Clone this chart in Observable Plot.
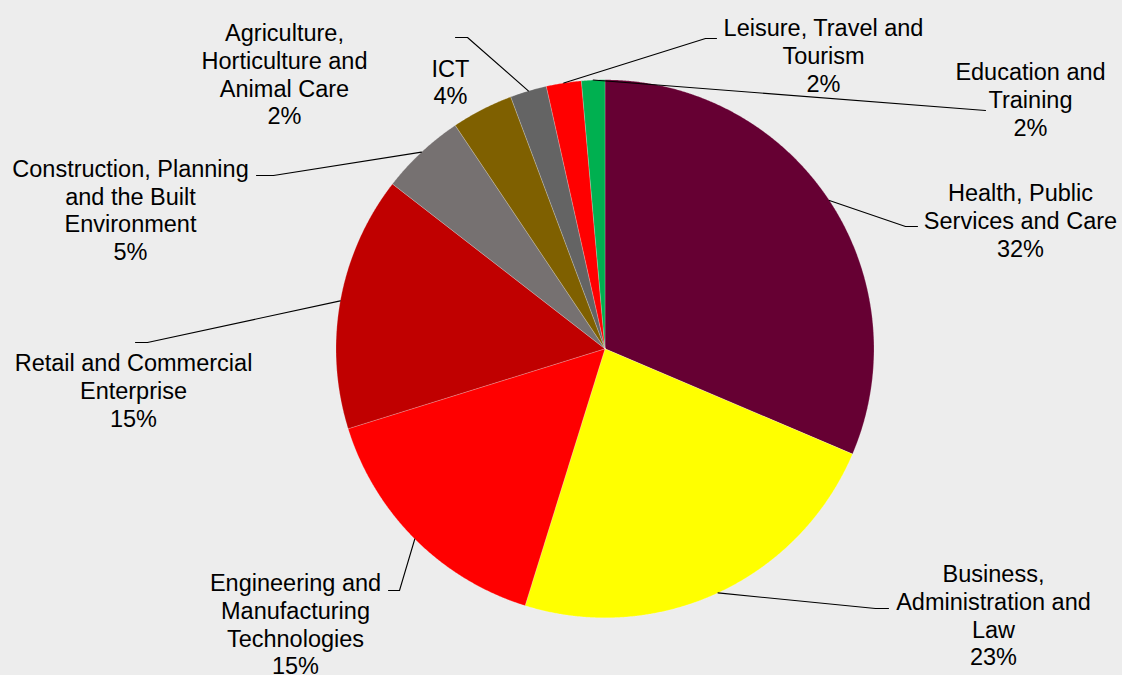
<!DOCTYPE html>
<html>
<head>
<meta charset="utf-8">
<script src="https://cdn.jsdelivr.net/npm/d3@7"></script>
<script src="https://cdn.jsdelivr.net/npm/@observablehq/plot@0.6"></script>
<style>
  html, body { margin: 0; padding: 0; background: #ededed; }
  #chart { width: 1122px; height: 675px; }
</style>
</head>
<body>
<div id="chart"></div>
<script>
// ---- data ----
const categories = [
  "Health, Public Services and Care",
  "Business, Administration and Law",
  "Engineering and Manufacturing Technologies",
  "Retail and Commercial Enterprise",
  "Construction, Planning and the Built Environment",
  "ICT",
  "Agriculture, Horticulture and Animal Care",
  "Leisure, Travel and Tourism",
  "Education and Training"
];
const values = [31.4, 23.4, 15.4, 15.3, 5.1, 3.7, 2.2, 2.1, 1.4];
const percentLabels = ["32%", "23%", "15%", "15%", "5%", "4%", "2%", "2%", "2%"];
const wrappedNames = [
  ["Health, Public", "Services and Care"],
  ["Business,", "Administration and", "Law"],
  ["Engineering and", "Manufacturing", "Technologies"],
  ["Retail and Commercial", "Enterprise"],
  ["Construction, Planning", "and the Built", "Environment"],
  ["ICT"],
  ["Agriculture,", "Horticulture and", "Animal Care"],
  ["Leisure, Travel and", "Tourism"],
  ["Education and", "Training"]
];
const colors = ["#660033", "#ffff00", "#ff0000", "#c00000", "#767171", "#7f6000", "#646464", "#ff0000", "#00b050"];

// ---- layout (pixels) ----
const W = 1122, H = 675;
const cx = 604.5, cy = 348.3, R = 269;
// label block centres
const labelPos = [
  [1020, 219.5], [993, 614.5], [295, 623.5], [133, 389.5], [130, 209],
  [450, 81], [284, 73.5], [823, 54.5], [1030, 98.5]
];
// leader line elbow and end points (null = no leader)
const leaderElbow = [[905, 226], [875, 608], [399, 590], [147, 342], [273, 175], null, [467, 37], [705, 38], [985, 110]];
const leaderEnd   = [[917, 226], [888, 608], [388, 590], [135, 342], [256, 175], null, [455, 37], [716, 38], [985, 110]];

// ---- build geometry ----
const rows = categories.map((name, i) => ({name, value: values[i], i}));
const arcs = d3.pie().sort(null).value(d => d.value)(rows);

const pt = (a, r) => [cx + r * Math.sin(a), cy - r * Math.cos(a)];

const slicePts = [];
arcs.forEach(a => {
  const name = a.data.name;
  slicePts.push({name, x: cx, y: cy});
  const n = Math.max(2, Math.ceil((a.endAngle - a.startAngle) / 0.004));
  for (let k = 0; k <= n; k++) {
    const ang = a.startAngle + (a.endAngle - a.startAngle) * k / n;
    const [x, y] = pt(ang, R);
    slicePts.push({name, x, y});
  }
  slicePts.push({name, x: cx, y: cy});
});

const leaderPts = [];
arcs.forEach((a, i) => {
  if (!leaderElbow[i]) return;
  const mid = (a.startAngle + a.endAngle) / 2;
  const [x0, y0] = pt(mid, R);
  leaderPts.push({name: a.data.name, x: x0, y: y0});
  leaderPts.push({name: a.data.name, x: leaderElbow[i][0], y: leaderElbow[i][1]});
  leaderPts.push({name: a.data.name, x: leaderEnd[i][0], y: leaderEnd[i][1]});
});

const labels = rows.map((d, i) => ({
  x: labelPos[i][0],
  y: labelPos[i][1],
  text: wrappedNames[i].concat([percentLabels[i]]).join("\n")
}));

const chart = Plot.plot({
  width: W,
  height: H,
  margin: 0,
  style: {background: "#ededed", fontFamily: "'Liberation Sans', Arial, sans-serif"},
  x: {domain: [0, W], range: [0, W], axis: null},
  y: {domain: [0, H], range: [0, H], axis: null},
  color: {type: "ordinal", domain: categories, range: colors},
  marks: [
    Plot.line(slicePts, {x: "x", y: "y", z: "name", fill: "name", stroke: "#ffffff", strokeOpacity: 0.35, strokeWidth: 0.6, curve: "linear"}),
    Plot.line(leaderPts, {x: "x", y: "y", z: "name", stroke: "#000000", strokeWidth: 1.1}),
    Plot.text(labels, {x: "x", y: "y", text: "text", fontSize: 23.5, lineHeight: 1.18, fill: "#000000", textAnchor: "middle", lineAnchor: "middle"})
  ]
});
document.getElementById("chart").appendChild(chart);
</script>
</body>
</html>
